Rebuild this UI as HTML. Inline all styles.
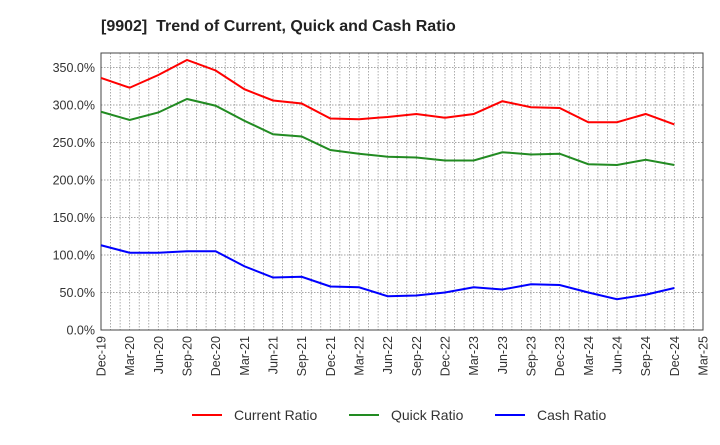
<!DOCTYPE html>
<html><head><meta charset="utf-8"><style>
body{margin:0;background:#fff;font-family:"Liberation Sans",sans-serif;}
</style></head><body>
<svg id="c" width="720" height="440" xmlns="http://www.w3.org/2000/svg">
<text x="101" y="31" font-size="16" font-weight="bold" fill="#222">[9902]&#160;&#160;Trend of Current, Quick and Cash Ratio</text>
<g id="grid"></g><g id="axes"></g><g id="series"></g><g id="legend"></g>
</svg>
<script>
const categories=["Dec-19","Mar-20","Jun-20","Sep-20","Dec-20","Mar-21","Jun-21","Sep-21","Dec-21","Mar-22","Jun-22","Sep-22","Dec-22","Mar-23","Jun-23","Sep-23","Dec-23","Mar-24","Jun-24","Sep-24","Dec-24","Mar-25"];
const currentRatio=[336,323,340,360,346,321,306,302,282,281,284,288,283,288,305,297,296,277,277,288,274];
const quickRatio=[291,280,290,308,299,279,261,258,240,235,231,230,226,226,237,234,235,221,220,227,220];
const cashRatio=[113,103,103,105,105,85,70,71,58,57,45,46,50,57,54,61,60,50,41,47,56];
const yTicks=[0,50,100,150,200,250,300,350];
const NS="http://www.w3.org/2000/svg";
const L=101,R=703,T=53,B=330,YMAX=369.3;
const months=(categories.length-1)*3;
const x=i=>L+(R-L)*i/(categories.length-1);
const xm=m=>L+(R-L)*m/months;
const y=v=>B-(B-T)*v/YMAX;
function mk(tag,attrs,parent){const e=document.createElementNS(NS,tag);for(const k in attrs)e.setAttribute(k,attrs[k]);parent.appendChild(e);return e;}
const grid=document.getElementById('grid'),axes=document.getElementById('axes'),ser=document.getElementById('series'),leg=document.getElementById('legend');
for(let m=1;m<months;m++){const g=mk('line',{x1:xm(m),x2:xm(m),y1:T,y2:B,stroke:'#999','stroke-width':0.8,'stroke-dasharray':'1.5,1.5'},grid);

}
yTicks.forEach(v=>{if(v>0){const g=mk('line',{x1:L,x2:R,y1:y(v),y2:y(v),stroke:'#888','stroke-width':0.8,'stroke-dasharray':'1.5,1.5'},grid);

}
const t=mk('text',{x:L-6,y:y(v)+4.5,'text-anchor':'end','font-size':12.5,fill:'#333'},axes);t.textContent=v.toFixed(1)+'%';

});
const fr=mk('rect',{x:L,y:T,width:R-L,height:B-T,fill:'none',stroke:'#444','stroke-width':1},axes);


categories.forEach((c,i)=>{const t=mk('text',{transform:`translate(${x(i)+4.5},${B+6}) rotate(-90)`,'text-anchor':'end','font-size':12.5,fill:'#333'},axes);t.textContent=c;

});
const list=[["Current Ratio",currentRatio,"#f00"],["Quick Ratio",quickRatio,"#228b22"],["Cash Ratio",cashRatio,"#00f"]];
list.forEach(([n,d,col],k)=>{const p=mk('polyline',{points:d.map((v,i)=>x(i)+','+y(v)).join(' '),fill:'none',stroke:col,'stroke-width':2},ser);


const lx=[192,349,495][k];
const g=mk('g',{},leg);


mk('line',{x1:lx,x2:lx+30,y1:415,y2:415,stroke:col,'stroke-width':2},g);
const t=mk('text',{x:lx+42,y:420,'font-size':14,fill:'#333'},g);t.textContent=n;});
</script>
</body></html>
